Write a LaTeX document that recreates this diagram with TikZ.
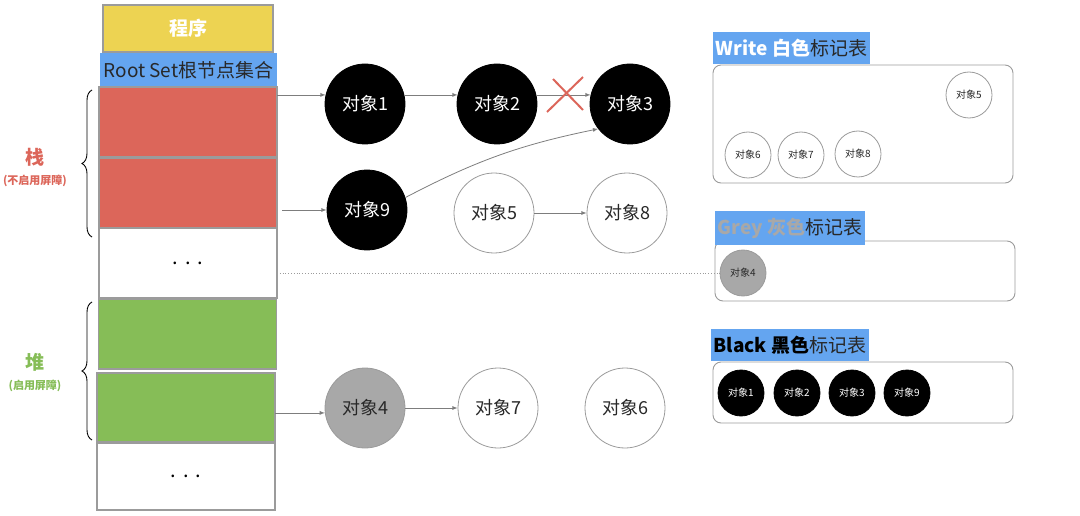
\documentclass[tikz,border=0pt]{standalone}
\usepackage{fontspec}
\setmainfont{Noto Sans CJK SC}
\usetikzlibrary{arrows,shapes,positioning,decorations.pathreplacing}
\definecolor{progYellow}{RGB}{237,211,82}
\definecolor{rootBlue}{RGB}{100,165,240}
\definecolor{stackRed}{RGB}{220,102,90}
\definecolor{heapGreen}{RGB}{134,189,87}
\definecolor{objGrey}{RGB}{168,168,168}
\definecolor{boxGray}{RGB}{155,155,155}
\definecolor{lineGray}{RGB}{125,125,125}
\definecolor{textDark}{RGB}{40,40,40}
\tikzstyle{arrow} = [->, >=latex, draw=lineGray, line width=0.8pt]
\tikzstyle{stackBox} = [shape = rectangle, draw=boxGray, line width=1.2pt, inner sep=0pt, outer sep=0pt, minimum width=178pt, minimum height=70pt]
\tikzstyle{bigObj} = [shape = circle, draw=boxGray, line width=0.8pt, minimum size=80pt, inner sep=0pt, text=textDark, font=\fontsize{18}{18}\selectfont]
\tikzstyle{smallObj} = [shape = circle, draw=boxGray, line width=0.8pt, minimum size=46pt, inner sep=0pt, text=textDark, font=\fontsize{10}{10}\selectfont]
\tikzstyle{blackObj} = [fill=black, draw=black, text=white]
\tikzstyle{greyObj} = [fill=objGrey]
\tikzstyle{markTable} = [shape = rectangle, rounded corners=8pt, draw=boxGray, line width=0.9pt, minimum width=300pt]
\tikzstyle{tableTitle} = [fill=rootBlue, anchor=south west, inner xsep=3pt, inner ysep=7pt, text=textDark, font=\fontsize{19}{19}\selectfont]
\tikzstyle{sideBrace} = [decorate, decoration={brace, amplitude=10pt}, line width=0.9pt]

\begin{document}
\begin{tikzpicture}[x=1pt, y=-1pt]
			\useasboundingbox (0,0) rectangle (1080,516);
			% stack of the program
			\node (prog) at (188,28.5) [stackBox, fill=progYellow, minimum width=170pt, minimum height=47pt, text=white, font=\fontsize{19}{19}\selectfont\bfseries] {
				程序
			};
			\node (root) at (188.5,70) [stackBox, fill=rootBlue, draw=none, minimum width=177pt, minimum height=34pt, text=textDark, font=\fontsize{19}{19}\selectfont] {
				Root Set根节点集合
			};
			\node (red1) at (188,122) [stackBox, fill=stackRed] {};
			\node (red2) at (188,193) [stackBox, fill=stackRed] {};
			\node (dots1) at (188,263) [stackBox, fill=white, font=\fontsize{20}{20}\selectfont] {
				.\,\,.\,\,.
			};
			\node (green1) at (187.5,334) [stackBox, fill=heapGreen] {};
			\node (green2) at (186,407.5) [stackBox, fill=heapGreen, minimum height=69pt] {};
			\node (dots2) at (186,476.5) [stackBox, fill=white, minimum height=67pt, font=\fontsize{20}{20}\selectfont] {
				.\,\,.\,\,.
			};
			% braces and side labels
			\draw[sideBrace] (92,237) -- (92,90);
			\draw[sideBrace] (92,440) -- (92,302);
			\node (stackLbl) at (35,157) [text=stackRed, font=\fontsize{19}{19}\selectfont\bfseries] {栈};
			\node (stackSub) [below = 2pt of stackLbl, text=stackRed, font=\fontsize{11}{11}\selectfont\bfseries] {(不启用屏障)};
			\node (heapLbl) at (35,362) [text=heapGreen, font=\fontsize{19}{19}\selectfont\bfseries] {堆};
			\node (heapSub) [below = 2pt of heapLbl, text=heapGreen, font=\fontsize{11}{11}\selectfont\bfseries] {(启用屏障)};
			% object graph
			\node (obj1) at (365,104) [bigObj, blackObj] {对象1};
			\node (obj2) at (497,104) [bigObj, blackObj] {对象2};
			\node (obj3) at (630,104) [bigObj, blackObj] {对象3};
			\node (obj9) at (367,210) [bigObj, blackObj] {对象9};
			\node (obj5) at (494,213) [bigObj] {对象5};
			\node (obj8) at (627,213) [bigObj] {对象8};
			\node (obj4) at (365,408) [bigObj, greyObj] {对象4};
			\node (obj7) at (498,408) [bigObj] {对象7};
			\node (obj6) at (625,408) [bigObj] {对象6};
			\draw[arrow] (red1.east |- obj1.167) -- (obj1.167);
			\draw[arrow] (obj1.13) -- (obj2.167);
			\draw[arrow] (obj2.13) -- (obj3.167);
			\draw[arrow] ([xshift=5pt]red2.east |- obj9.west) -- (obj9.west);
			\draw[arrow] (obj9.18) to[bend left=8] (obj3.218);
			\draw[arrow] (obj5.east) -- (obj8.west);
			\draw[arrow] (green2.east |- obj4.187) -- (obj4.187);
			\draw[arrow] (obj4.east) -- (obj7.west);
			% cut reference 2 -> 3
			\coordinate (cutMid) at (565,95);
			\draw[stackRed, line width=2pt] ([shift={(-18,17)}]cutMid) -- ([shift={(18,-18)}]cutMid);
			\draw[stackRed, line width=2pt] ([shift={(-12,-16)}]cutMid) -- ([shift={(18,15)}]cutMid);
			% mark tables
			\node (whiteTab) at (863,124) [markTable, minimum height=118pt] {};
			\node (whiteTitle) at (whiteTab.north west) [tableTitle] {{\bfseries\color{white}Write 白色}标记表};
			\node (w5) at (969,95) [smallObj] {对象5};
			\node (w6) at (748,155) [smallObj] {对象6};
			\node (w7) at (801,155) [smallObj] {对象7};
			\node (w8) at (858,154) [smallObj] {对象8};
			\node (greyTab) at (865,271) [markTable, minimum height=60pt] {};
			\node (greyTitle) at ([yshift=-5pt]greyTab.north west) [tableTitle] {{\bfseries\color{objGrey}Grey 灰色}标记表};
			\node (g4) at (743,273) [smallObj, greyObj] {对象4};
			\node (blackTab) at (863,392.5) [markTable, minimum height=61pt] {};
			\node (blackTitle) at ([xshift=-2pt]blackTab.north west) [tableTitle] {{\bfseries\color{black}Black 黑色}标记表};
			\node (b1) at (741,393) [smallObj, blackObj] {对象1};
			\node (b2) at (797,393) [smallObj, blackObj] {对象2};
			\node (b3) at (852,393) [smallObj, blackObj] {对象3};
			\node (b9) at (907,393) [smallObj, blackObj] {对象9};
			% grey object in the stack
			\draw[boxGray, dotted, line width=0.8pt] (dots1.east |- g4.west) -- (g4.west);
\end{tikzpicture}
\end{document}
